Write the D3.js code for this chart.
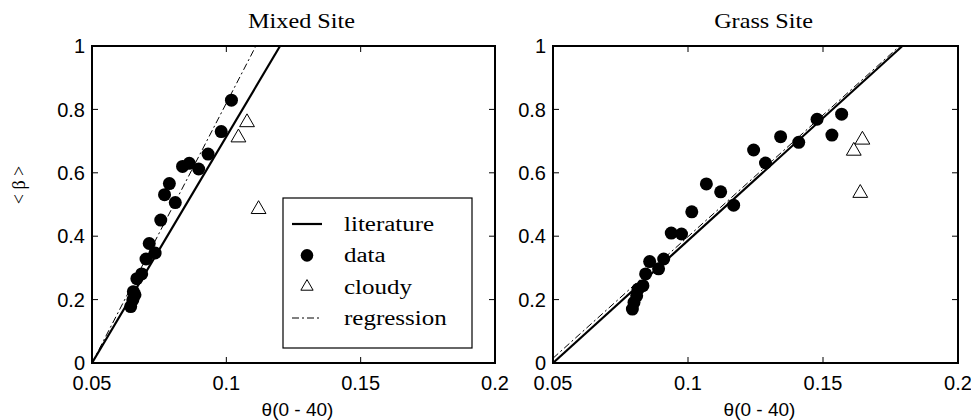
<!DOCTYPE html>
<html>
<head>
<meta charset="utf-8">
<script src="https://cdn.jsdelivr.net/npm/d3@7"></script>
<style>
  body { margin: 0; background: #fff; }
  svg { display: block; }
</style>
</head>
<body>
<svg width="971" height="420"></svg>
<script>
// ---- data ----
var xTicks = [0.05, 0.1, 0.15, 0.2];
var yTicks = [0, 0.2, 0.4, 0.6, 0.8, 1];
var legendLabels = ["literature", "data", "cloudy", "regression"];

// Mixed site
var mixedData = [
  [0.0644, 0.178], [0.0652, 0.199], [0.0660, 0.215], [0.0654, 0.225],
  [0.0667, 0.266], [0.0685, 0.281], [0.0701, 0.328], [0.0713, 0.377],
  [0.0735, 0.347], [0.0756, 0.451], [0.0770, 0.531], [0.0788, 0.566],
  [0.0810, 0.506], [0.0837, 0.620], [0.0862, 0.630], [0.0897, 0.612],
  [0.0932, 0.659], [0.0981, 0.730], [0.1019, 0.829]
];
var mixedCloudy = [[0.1045, 0.711], [0.1077, 0.759], [0.1120, 0.485]];
var mixedLiterature = [[0.05, 0], [0.12, 1]];
var mixedRegression = [[0.05, 0], [0.111, 1]];

// Grass site
var grassData = [
  [0.0794, 0.170], [0.0800, 0.191], [0.0810, 0.212], [0.0815, 0.233],
  [0.0833, 0.244], [0.0843, 0.281], [0.0858, 0.320], [0.0891, 0.297],
  [0.0910, 0.328], [0.0938, 0.410], [0.0976, 0.407], [0.1014, 0.477],
  [0.1068, 0.565], [0.1121, 0.540], [0.1169, 0.498], [0.1243, 0.672],
  [0.1287, 0.631], [0.1343, 0.714], [0.1410, 0.696], [0.1478, 0.769],
  [0.1533, 0.719], [0.1569, 0.785]
];
var grassCloudy = [[0.1614, 0.669], [0.1646, 0.704], [0.1638, 0.536]];
var grassLiterature = [[0.05, 0], [0.1794, 1]];
var grassRegression = [[0.05, 0.015], [0.1784, 1]];

// ---- layout ----
var svg = d3.select("svg");
var plotTop = 46, plotBottom = 363;
var sansFont = "'Liberation Sans', Arial, Helvetica, sans-serif";
var serifFont = "'Liberation Serif', 'Times New Roman', serif";

function drawPanel(left, right, title, dots, cloudy, lit, reg) {
  var x = d3.scaleLinear().domain([0.05, 0.2]).range([left, right]);
  var y = d3.scaleLinear().domain([0, 1]).range([plotBottom, plotTop]);
  var g = svg.append("g");

  // inward ticks on all four sides
  var tickLen = 6;
  var innerX = xTicks.slice(1, -1), innerY = yTicks.slice(1, -1);
  g.selectAll(".xt").data(innerX).enter().append("path")
    .attr("d", d => "M" + x(d) + "," + plotBottom + "v" + (-tickLen) + "M" + x(d) + "," + plotTop + "v" + tickLen)
    .attr("stroke", "#000").attr("stroke-width", 1);
  g.selectAll(".yt").data(innerY).enter().append("path")
    .attr("d", d => "M" + left + "," + y(d) + "h" + tickLen + "M" + right + "," + y(d) + "h" + (-tickLen))
    .attr("stroke", "#000").attr("stroke-width", 1);

  // tick labels
  g.selectAll(".xl").data(xTicks).enter().append("text")
    .attr("x", d => x(d)).attr("y", plotBottom + 27)
    .attr("text-anchor", "middle")
    .attr("font-family", sansFont).attr("font-size", 20)
    .text(d => d3.format("")(d));
  g.selectAll(".yl").data(yTicks).enter().append("text")
    .attr("x", left - 7).attr("y", d => y(d)).attr("dy", "0.36em")
    .attr("text-anchor", "end")
    .attr("font-family", sansFont).attr("font-size", 20)
    .text(d => d3.format("")(d));

  // lines
  var line = d3.line().x(d => x(d[0])).y(d => y(d[1]));
  g.append("path").datum(lit).attr("d", line)
    .attr("fill", "none").attr("stroke", "#000").attr("stroke-width", 2.2);
  g.append("path").datum(reg).attr("d", line)
    .attr("fill", "none").attr("stroke", "#000").attr("stroke-width", 1)
    .attr("stroke-dasharray", "7,3,2,3");

  // markers
  g.selectAll(".dot").data(dots).enter().append("circle")
    .attr("cx", d => x(d[0])).attr("cy", d => y(d[1])).attr("r", 6.5)
    .attr("fill", "#000");
  var tri = d3.symbol().type(d3.symbolTriangle).size(95);
  g.selectAll(".tri").data(cloudy).enter().append("path")
    .attr("d", tri)
    .attr("transform", d => "translate(" + x(d[0]) + "," + y(d[1]) + ")")
    .attr("fill", "#fff").attr("stroke", "#000").attr("stroke-width", 1);

  // frame
  g.append("rect")
    .attr("x", left).attr("y", plotTop)
    .attr("width", right - left).attr("height", plotBottom - plotTop)
    .attr("fill", "none").attr("stroke", "#000").attr("stroke-width", 2);

  // titles
  g.append("text")
    .attr("transform", "translate(" + ((left + right) / 2 + 8) + ",28) scale(1.1,1)")
    .attr("text-anchor", "middle")
    .attr("font-family", serifFont).attr("font-size", 22)
    .text(title);
  g.append("text")
    .attr("x", (left + right) / 2 + 4).attr("y", 416)
    .attr("text-anchor", "middle")
    .attr("font-family", sansFont).attr("font-size", 19)
    .text("θ(0 - 40)");
}

drawPanel(92, 495, "Mixed Site", mixedData, mixedCloudy, mixedLiterature, mixedRegression);
drawPanel(553, 958, "Grass Site", grassData, grassCloudy, grassLiterature, grassRegression);

// y label
svg.append("text")
  .attr("transform", "translate(25,185) rotate(-90)")
  .attr("text-anchor", "middle")
  .attr("font-family", serifFont).attr("font-size", 18)
  .text("< β >");

// legend (left panel)
var legend = svg.append("g").attr("transform", "translate(283,198)");
legend.append("rect")
  .attr("width", 189).attr("height", 150)
  .attr("fill", "#fff").attr("stroke", "#000").attr("stroke-width", 1.2);
var rowY = d3.scalePoint().domain(legendLabels).range([26, 120]);
legend.selectAll(".lt").data(legendLabels).enter().append("text")
  .attr("transform", d => "translate(61," + (rowY(d) + 7) + ") scale(1.25,1)")
  .attr("font-family", serifFont).attr("font-size", 20)
  .text(d => d);
legend.append("line")
  .attr("x1", 9).attr("x2", 39).attr("y1", rowY("literature")).attr("y2", rowY("literature"))
  .attr("stroke", "#000").attr("stroke-width", 2.2);
legend.append("circle")
  .attr("cx", 24).attr("cy", rowY("data")).attr("r", 6.3).attr("fill", "#000");
legend.append("path")
  .attr("d", d3.symbol().type(d3.symbolTriangle).size(65))
  .attr("transform", "translate(24," + rowY("cloudy") + ")")
  .attr("fill", "#fff").attr("stroke", "#000").attr("stroke-width", 1);
legend.append("line")
  .attr("x1", 9).attr("x2", 39).attr("y1", rowY("regression")).attr("y2", rowY("regression"))
  .attr("stroke", "#000").attr("stroke-width", 1)
  .attr("stroke-dasharray", "7,3,2,3");
</script>
</body>
</html>
